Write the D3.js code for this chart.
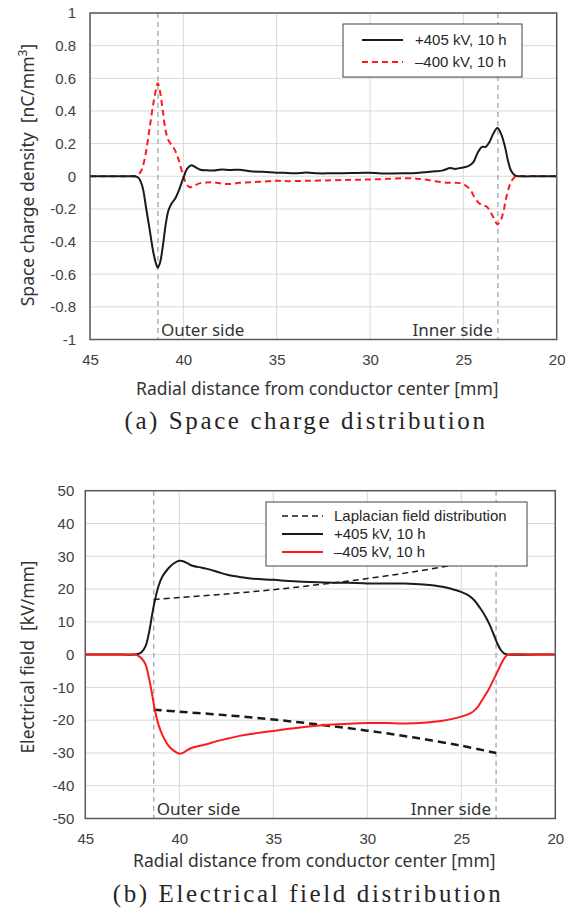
<!DOCTYPE html>
<html>
<head>
<meta charset="utf-8">
<script src="https://cdn.jsdelivr.net/npm/d3@7"></script>
<style>
  body { margin: 0; background: #fff; }
  svg { display: block; }
</style>
</head>
<body>
<svg id="chart"></svg>
<script>
// ---- data ----
const rTicks = [45, 40, 35, 30, 25, 20];
const rhoTicks = [1, 0.8, 0.6, 0.4, 0.2, 0, -0.2, -0.4, -0.6, -0.8, -1];
const fieldTicks = [50, 40, 30, 20, 10, 0, -10, -20, -30, -40, -50];
const electrodeR = [41.36, 23.15]; // outer / inner side markers

// (a) space charge, +405 kV
const rhoPosR = [45, 43, 42.6, 42.4, 42.2, 42.0, 41.8, 41.6, 41.45, 41.37, 41.25, 41.1, 40.95, 40.8, 40.62, 40.45, 40.25, 40.0, 39.8, 39.58, 39.35, 39.1, 38.7, 38.36, 37.97, 37.5, 37.0, 36.4, 35.7, 35.0, 34.4, 34.0, 33.4, 32.8, 32.1, 31.0, 30.1, 29.0, 28.1, 27.5, 27.1, 26.5, 26.1, 25.7, 25.45, 25.18, 24.95, 24.74, 24.47, 24.25, 24.0, 23.8, 23.6, 23.4, 23.18, 22.98, 22.77, 22.6, 22.45, 22.24, 22.0, 21, 20];
const rhoPosV = [0, 0, 0, -0.01, -0.06, -0.19, -0.33, -0.47, -0.54, -0.56, -0.53, -0.43, -0.30, -0.21, -0.165, -0.14, -0.09, -0.01, 0.045, 0.067, 0.055, 0.04, 0.036, 0.035, 0.042, 0.038, 0.04, 0.03, 0.027, 0.022, 0.02, 0.018, 0.023, 0.018, 0.018, 0.02, 0.021, 0.017, 0.018, 0.02, 0.024, 0.03, 0.036, 0.05, 0.045, 0.05, 0.055, 0.062, 0.085, 0.14, 0.18, 0.18, 0.21, 0.26, 0.295, 0.26, 0.18, 0.09, 0.035, 0.005, 0, 0, 0];
// (a) space charge, -400 kV
const rhoNegR = [45, 43, 42.6, 42.4, 42.2, 42.0, 41.8, 41.6, 41.45, 41.37, 41.25, 41.1, 40.95, 40.8, 40.62, 40.45, 40.25, 40.0, 39.8, 39.64, 39.45, 39.1, 38.7, 38.36, 37.97, 37.5, 37.0, 36.4, 35.7, 35.0, 34.4, 33.4, 32.1, 31.0, 30.1, 29.0, 28.1, 27.5, 27.1, 26.5, 25.9, 25.4, 25.0, 24.65, 24.4, 24.2, 23.95, 23.75, 23.55, 23.35, 23.18, 23.0, 22.86, 22.7, 22.5, 22.3, 22.1, 21, 20];
const rhoNegV = [0, 0, 0, 0.01, 0.05, 0.15, 0.3, 0.45, 0.54, 0.57, 0.52, 0.4, 0.28, 0.22, 0.19, 0.16, 0.1, 0.0, -0.055, -0.068, -0.06, -0.042, -0.038, -0.038, -0.045, -0.048, -0.04, -0.037, -0.032, -0.028, -0.03, -0.028, -0.025, -0.022, -0.02, -0.016, -0.012, -0.015, -0.02, -0.03, -0.04, -0.04, -0.048, -0.08, -0.13, -0.16, -0.18, -0.185, -0.22, -0.26, -0.295, -0.27, -0.22, -0.13, -0.05, -0.01, 0, 0, 0];

// (b) electrical field, +405 kV
const fieldPosR = [45, 43, 42.4, 42.2, 42.0, 41.8, 41.6, 41.45, 41.3, 41.1, 40.9, 40.6, 40.3, 40.0, 39.8, 39.55, 39.3, 38.8, 38.4, 37.9, 37.4, 36.8, 36.2, 35.0, 33.9, 32.3, 31, 30, 28.0, 27.0, 26.0, 25.5, 25.05, 24.6, 24.3, 24.0, 23.7, 23.5, 23.3, 23.1, 22.9, 22.7, 22.5, 21, 20];
const fieldPosV = [0, 0, 0, 0.2, 0.8, 2.5, 7, 12, 16.5, 21, 23.8, 26.2, 27.8, 28.6, 28.5, 27.8, 27.1, 26.5, 26.0, 25.1, 24.3, 23.7, 23.2, 22.8, 22.4, 22.0, 21.9, 21.7, 21.7, 21.4, 20.7, 20.0, 19.2, 18.0, 16.5, 14.2, 11.5, 9.2, 6.5, 3.6, 1.4, 0.3, 0, 0, 0];
// (b) electrical field, -405 kV
const fieldNegR = [45, 43, 42.4, 42.2, 42.0, 41.8, 41.6, 41.45, 41.3, 41.1, 40.9, 40.6, 40.3, 40.0, 39.8, 39.6, 39.36, 38.9, 38.6, 38.0, 37.4, 36.8, 36.2, 35.0, 33.9, 32.3, 31, 30, 29, 28.0, 27.0, 26.0, 25.05, 24.4, 24.1, 23.9, 23.6, 23.4, 23.1, 22.85, 22.65, 22.5, 21, 20];
const fieldNegV = [0, 0, 0, -0.3, -1.2, -3, -7.5, -12, -16.9, -21.5, -24.5, -27.6, -29.3, -30.2, -30.0, -29.2, -28.5, -27.8, -27.4, -26.4, -25.6, -24.8, -24.2, -23.3, -22.5, -21.5, -21.1, -20.9, -20.9, -21.0, -20.8, -20.2, -19.0, -17.5, -15.8, -13.9, -11.2, -9.0, -5.5, -2.5, -0.6, 0, 0, 0];
// (b) Laplacian field
const lapR = [41.36, 40, 37.5, 35, 32.5, 30, 27.5, 25, 23.15];
const lapV = [16.8, 17.4, 18.5, 19.8, 21.4, 23.2, 25.3, 27.8, 30.0];
const lapNegV = [-16.8, -17.4, -18.5, -19.8, -21.4, -23.2, -25.3, -27.8, -30.0];

const zip = (xs, ys) => xs.map((x, i) => ({ r: x, v: ys[i] }));

const W = 578, H = 913;
const svg = d3.select("#chart").attr("width", W).attr("height", H);
svg.append("rect").attr("width", W).attr("height", H).attr("fill", "#fff");

const sans = "'Liberation Sans', Arial, sans-serif";
const jp = "'Noto Sans', 'Open Sans', sans-serif";
const serif = "'Liberation Serif', 'Times New Roman', serif";

function drawPanel(p) {
  const x = d3.scaleLinear().domain([45, 20]).range([p.left, p.right]);
  const y = d3.scaleLinear().domain([p.ticks[0], p.ticks[p.ticks.length - 1]]).range([p.top, p.bottom]);
  const g = svg.append("g");

  // gridlines
  g.append("g").selectAll("line").data(p.ticks).join("line")
    .attr("x1", p.left).attr("x2", p.right)
    .attr("y1", d => y(d)).attr("y2", d => y(d))
    .attr("stroke", "#d9d9d9").attr("stroke-width", 1);
  g.append("g").selectAll("line").data(rTicks).join("line")
    .attr("x1", d => x(d)).attr("x2", d => x(d))
    .attr("y1", p.top).attr("y2", p.bottom)
    .attr("stroke", "#d9d9d9").attr("stroke-width", 1);

  // axes (labels only)
  const ya = g.append("g").attr("transform", `translate(${p.left},0)`)
    .call(d3.axisLeft(y).tickValues(p.ticks).tickSize(0).tickPadding(p.yPad).tickFormat(d => String(d)));
  ya.select(".domain").remove();
  ya.selectAll("text").attr("font-family", sans).attr("font-size", 15).attr("fill", "#404040");
  const xa = g.append("g").attr("transform", `translate(0,${p.bottom})`)
    .call(d3.axisBottom(x).tickValues(rTicks).tickSize(0).tickPadding(p.xPad).tickFormat(d => String(d)));
  xa.select(".domain").remove();
  xa.selectAll("text").attr("font-family", sans).attr("font-size", 15).attr("fill", "#404040");

  // electrode markers
  g.append("g").selectAll("line").data(electrodeR).join("line")
    .attr("x1", d => x(d)).attr("x2", d => x(d))
    .attr("y1", p.top).attr("y2", p.bottom)
    .attr("stroke", "#a6a6a6").attr("stroke-width", 1.3).attr("stroke-dasharray", "5,4");

  g.append("text").attr("x", x(electrodeR[0]) + 3).attr("y", p.bottom - 4)
    .attr("font-family", jp).attr("font-size", 17).attr("fill", "#333").text("Outer side");
  g.append("text").attr("x", x(electrodeR[1]) - 5).attr("y", p.bottom - 4)
    .attr("text-anchor", "end")
    .attr("font-family", jp).attr("font-size", 17).attr("fill", "#333").text("Inner side");

  // series
  const line = d3.line().x(d => x(d.r)).y(d => y(d.v)).curve(d3.curveCatmullRom.alpha(0.5));
  p.series.forEach(s => {
    g.append("path").datum(zip(s.r, s.v))
      .attr("d", line).attr("fill", "none")
      .attr("stroke", s.color).attr("stroke-width", s.width)
      .attr("stroke-dasharray", s.dash || null)
      .attr("stroke-linejoin", "round");
  });

  // frame
  g.append("rect").attr("x", p.left).attr("y", p.top)
    .attr("width", p.right - p.left).attr("height", p.bottom - p.top)
    .attr("fill", "none").attr("stroke", "#595959").attr("stroke-width", 1.5);

  // legend
  const L = p.legend;
  g.append("rect").attr("x", L.x).attr("y", L.y).attr("width", L.w).attr("height", L.h)
    .attr("fill", "#fff").attr("stroke", "#404040").attr("stroke-width", 1);
  L.items.forEach((it, i) => {
    const yy = L.y + L.first + i * L.step;
    g.append("line").attr("x1", L.lx1).attr("x2", L.lx2).attr("y1", yy).attr("y2", yy)
      .attr("stroke", it.color).attr("stroke-width", it.width).attr("stroke-dasharray", it.dash || null);
    g.append("text").attr("x", L.tx).attr("y", yy).attr("dy", "0.35em")
      .attr("font-family", sans).attr("font-size", 15).attr("fill", "#262626").text(it.label);
  });

  // titles
  g.append("text").attr("x", (p.left + p.right) / 2 - 6).attr("y", p.xTitleY)
    .attr("text-anchor", "middle").attr("font-family", jp).attr("font-size", 17.5).attr("fill", "#333")
    .text("Radial distance from conductor center [mm]");
  const yt = g.append("text").attr("transform", `translate(${p.yTitleX},${p.yTitleC}) rotate(-90)`)
    .attr("text-anchor", "middle").attr("font-family", jp).attr("font-size", p.yTitleSize).attr("fill", "#333")
    .attr("xml:space", "preserve");
  yt.append("tspan").text(p.yTitle);
  if (p.yTitleSup) {
    yt.append("tspan").attr("font-size", 12).attr("dy", -7).text(p.yTitleSup);
    yt.append("tspan").attr("dy", 7).text("]");
  }
  g.append("text").attr("x", p.capX).attr("y", p.capY)
    .attr("text-anchor", "middle").attr("font-family", serif).attr("font-size", 25)
    .attr("letter-spacing", 2.6).attr("fill", "#262626").text(p.caption);
}

drawPanel({
  left: 90, right: 556.7, top: 13, bottom: 339.5,
  ticks: rhoTicks, yPad: 14, xPad: 15,
  series: [
    { r: rhoNegR, v: rhoNegV, color: "#ff1a1a", width: 2, dash: "6,4" },
    { r: rhoPosR, v: rhoPosV, color: "#1a1a1a", width: 2 }
  ],
  legend: { x: 343, y: 24, w: 179, h: 53, first: 16, step: 22, lx1: 362, lx2: 403, tx: 415,
    items: [
      { label: "+405 kV, 10 h", color: "#1a1a1a", width: 2 },
      { label: "\u2013400 kV, 10 h", color: "#ff1a1a", width: 2, dash: "6,4" }
    ] },
  xTitleY: 395, yTitleX: 34, yTitleC: 175, yTitleSize: 17.5,
  yTitle: "Space charge density  [nC/mm", yTitleSup: "3",
  caption: "(a) Space charge distribution", capX: 306, capY: 429
});

drawPanel({
  left: 85.3, right: 555.3, top: 490.7, bottom: 818.5,
  ticks: fieldTicks, yPad: 11, xPad: 15,
  series: [
    { r: lapR, v: lapV, color: "#1a1a1a", width: 1.5, dash: "6,4" },
    { r: lapR, v: lapNegV, color: "#1a1a1a", width: 2.5, dash: "8,5" },
    { r: fieldPosR, v: fieldPosV, color: "#1a1a1a", width: 2 },
    { r: fieldNegR, v: fieldNegV, color: "#ff1a1a", width: 2 }
  ],
  legend: { x: 266, y: 502, w: 261, h: 64, first: 14, step: 18, lx1: 282, lx2: 323, tx: 334,
    items: [
      { label: "Laplacian field distribution", color: "#1a1a1a", width: 1.5, dash: "6,4" },
      { label: "+405 kV, 10 h", color: "#1a1a1a", width: 2 },
      { label: "\u2013405 kV, 10 h", color: "#ff1a1a", width: 2 }
    ] },
  xTitleY: 867, yTitleX: 34, yTitleC: 657, yTitleSize: 17.5,
  yTitle: "Electrical field  [kV/mm]",
  caption: "(b) Electrical field distribution", capX: 308, capY: 902
});
</script>
</body>
</html>
